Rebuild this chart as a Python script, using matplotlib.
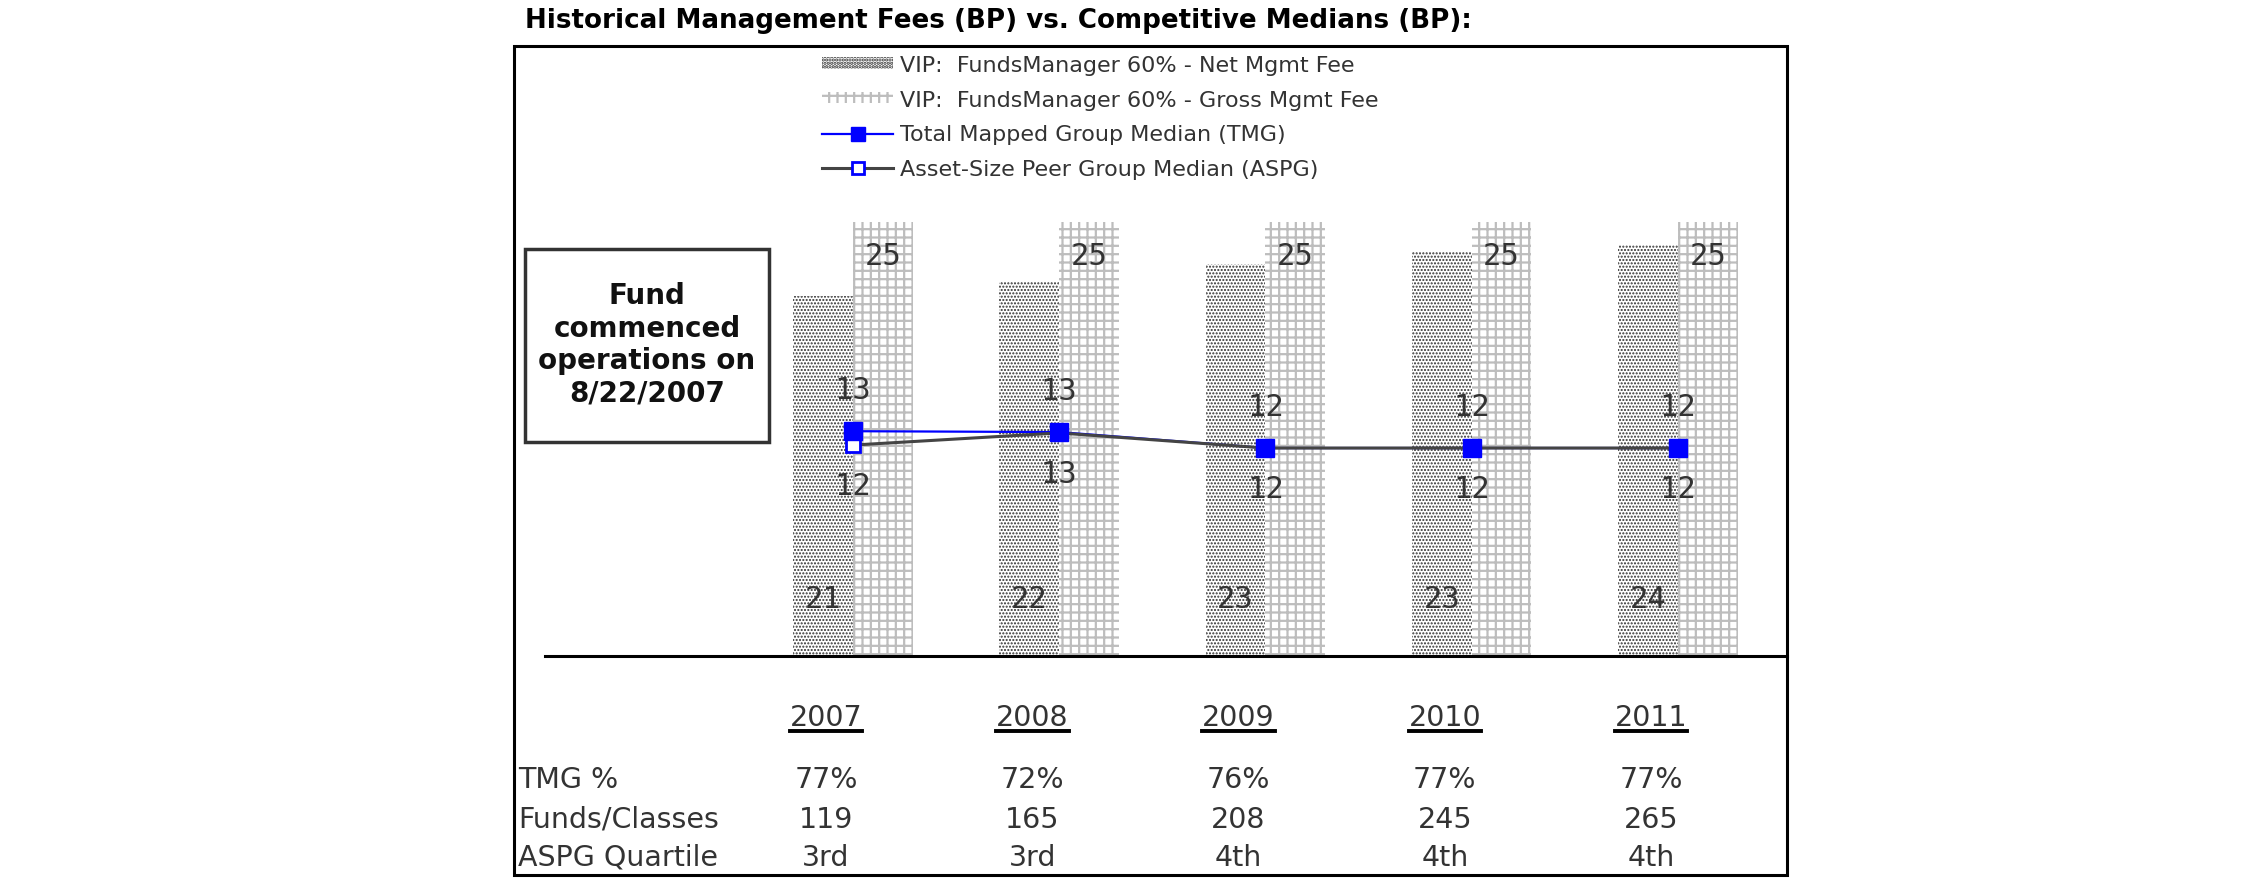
import matplotlib
matplotlib.use('Agg')
import matplotlib.pyplot as plt
import matplotlib.transforms as mtransforms
from matplotlib.patches import Patch, Rectangle
from matplotlib.lines import Line2D

# data (basis points)
years = ['2007', '2008', '2009', '2010', '2011']
net_fee = [20.75, 21.55, 22.6, 23.25, 23.7]
gross_fee = [25.0, 25.0, 25.0, 25.0, 25.0]
tmg_median = [12.95, 12.9, 11.98, 11.98, 11.98]
aspg_median = [12.15, 12.85, 11.98, 11.98, 11.98]

row_labels = ['TMG %', 'Funds/Classes', 'ASPG Quartile']
tmg_pct = ['77%', '72%', '76%', '77%', '77%']
funds_classes = ['119', '165', '208', '245', '265']
aspg_quartile = ['3rd', '3rd', '4th', '4th', '4th']

legend_labels = ['VIP:  FundsManager 60% - Net Mgmt Fee',
                 'VIP:  FundsManager 60% - Gross Mgmt Fee',
                 'Total Mapped Group Median (TMG)',
                 'Asset-Size Peer Group Median (ASPG)']
title = 'Historical Management Fees (BP) vs. Competitive Medians (BP):'
note = 'Fund\ncommenced\noperations on\n8/22/2007'

# layout is worked out in pixels of the 2250x895 picture
W, H = 2250, 895


def fx(px):
    return px / W


def fy(py):
    return 1 - py / H


NET_STYLE = dict(facecolor='white', edgecolor='#303030', linewidth=0, hatch='.....')
GROSS_STYLE = dict(facecolor='white', edgecolor='#bdbdbd', linewidth=0, hatch='++')

plt.rcParams['font.family'] = 'DejaVu Sans'

fig = plt.figure(figsize=(22.5, 8.95), dpi=100)
fig.patch.set_facecolor('white')

ax = fig.add_axes([fx(545), fy(657), fx(1787) - fx(545), fy(47) - fy(657)])
ax.patch.set_alpha(0)
x = list(range(len(years)))
w = 0.29

# bars (hatch line width is picked up when the patch is made)
plt.rcParams['hatch.linewidth'] = 1.0
ax.bar([i - w / 2 for i in x], net_fee, w, zorder=2, **NET_STYLE)
net_handle = Patch(**NET_STYLE)
plt.rcParams['hatch.linewidth'] = 1.6
ax.bar([i + w / 2 for i in x], gross_fee, w, zorder=2, **GROSS_STYLE)
gross_handle = Patch(**GROSS_STYLE)

# median lines
ax.plot(x, tmg_median, color='#0000ff', lw=1.6, zorder=3)
ax.plot(x, aspg_median, color='#444444', lw=2.2, zorder=4)
ax.plot(x, aspg_median, ls='none', marker='s', ms=10, mfc='white', mec='#0000ff', mew=2, zorder=5)
ax.plot(x, tmg_median, ls='none', marker='s', ms=13, mfc='#0000ff', mec='#0000ff', zorder=6)

# value labels
lab = dict(family='DejaVu Sans Mono', fontsize=22, color='#333333', ha='center', va='center', zorder=7)
for i in x:
    ax.text(i - w / 2, 3.3, f'{net_fee[i]:.0f}', **lab)
    ax.text(i + w / 2, gross_fee[i] - 1.95, f'{gross_fee[i]:.0f}', **lab)
    ax.annotate(f'{tmg_median[i]:.0f}', (i, tmg_median[i]), xytext=(0, 30),
                textcoords='offset points', **lab)
    ax.annotate(f'{aspg_median[i]:.0f}', (i, aspg_median[i]), xytext=(0, -29),
                textcoords='offset points', **lab)

ax.set_xlim(-1.493, 4.529)
ax.set_ylim(0, 35.14)
ax.set_xticks([])
ax.set_yticks([])
for s in ['top', 'left', 'right']:
    ax.spines[s].set_visible(False)
ax.spines['bottom'].set_linewidth(2.2)
ax.spines['bottom'].set_color('black')

# outer frame and title
fig.add_artist(Rectangle((fx(514), fy(876)), fx(1787) - fx(514), fy(47) - fy(876),
                         transform=fig.transFigure, fill=False, ec='black', lw=2.2))
fig.text(fx(525), fy(21), title, fontsize=18.8, weight='bold', va='center', color='black')

# note box
fig.add_artist(Rectangle((fx(525), fy(443)), fx(769) - fx(525), fy(250) - fy(443),
                         transform=fig.transFigure, facecolor='white', ec='#333333', lw=2.5))
fig.text(fx(647), fy(345), note, fontsize=20, weight='bold', ha='center', va='center',
         linespacing=1.2, color='#111111')

# legend
handles = [
    net_handle,
    gross_handle,
    Line2D([], [], color='#0000ff', lw=1.6, marker='s', ms=10, mfc='#0000ff', mec='#0000ff'),
    Line2D([], [], color='#444444', lw=2.2, marker='s', ms=8, mfc='white', mec='#0000ff', mew=2),
]
leg = fig.legend(handles, legend_labels, loc='upper left', bbox_to_anchor=(fx(822), fy(56)),
                 frameon=False, fontsize=16, borderpad=0, borderaxespad=0, handlelength=3.2,
                 handleheight=0.4, handletextpad=0.3, labelspacing=0.66)
for t in leg.get_texts():
    t.set_color('#333333')

# table under the chart
col_tf = mtransforms.blended_transform_factory(ax.transData, fig.transFigure)
tab = dict(fontsize=20.5, color='#333333', va='baseline')
year_texts = []
for i in x:
    xc = i - 0.13
    year_texts.append(ax.text(xc, fy(726), years[i], transform=col_tf, ha='center',
                              clip_on=False, **tab))
    for row_y, vals in zip([788, 828, 866], [tmg_pct, funds_classes, aspg_quartile]):
        ax.text(xc, fy(row_y), vals[i], transform=col_tf, ha='center', clip_on=False, **tab)
for row_y, label in zip([788, 828, 866], row_labels):
    fig.text(fx(518), fy(row_y), label, ha='left', **tab)

# underline the years
fig.canvas.draw()
r = fig.canvas.get_renderer()
for t in year_texts:
    bb = t.get_window_extent(r)
    fig.add_artist(Line2D([bb.x0 / fig.bbox.width, bb.x1 / fig.bbox.width], [fy(732), fy(732)],
                          transform=fig.transFigure, color='black', lw=2.8))

fig.savefig('out.png', dpi=100, facecolor='white')
